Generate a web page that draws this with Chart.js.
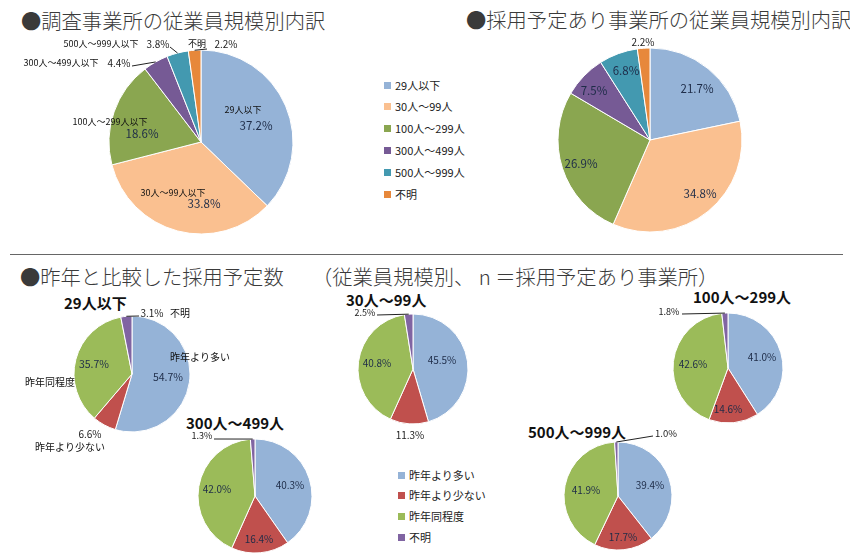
<!DOCTYPE html>
<html>
<head>
    <meta charset="utf-8">
    <title>従業員規模別 採用予定</title>
    <script src="https://cdn.jsdelivr.net/npm/chart.js"></script>
    <style>
        body { margin: 0; background: #fff; }
        #wrap { position: relative; width: 850px; height: 554px; overflow: hidden;
                font-family: "Noto Sans CJK JP", "Noto Sans", sans-serif; color: #222; }
        #wrap canvas { position: absolute; left: 0; top: 0; }
        .t { position: absolute; white-space: nowrap; }
        .big { font-size: 20.3px; line-height: 21px; color: #3a3a3a; font-weight: 300; }
        .sub { font-size: 15px; line-height: 15px; font-weight: bold; color: #111; }
        .leg { position: absolute; font-size: 11px; line-height: 11px; white-space: nowrap; }
        .leg span { display: inline-block; width: 7px; height: 7px; margin-right: 4px; vertical-align: 1px; }
        #sep { position: absolute; left: 10px; top: 254px; width: 833px; height: 0; border-top: 1.5px solid #666; }
    </style>
</head>
<body>
<div id="wrap">
    <div class="t big" style="left:21px; top:10px;">●調査事業所の従業員規模別内訳</div>
    <div class="t big" style="left:466px; top:9px;">●採用予定あり事業所の従業員規模別内訳</div>
    <div id="sep"></div>
    <div class="t big" style="left:20px; top:266px;">●昨年と比較した採用予定数</div>
    <div class="t big" style="left:312px; top:266px;">（従業員規模別、 n ＝採用予定あり事業所）</div>

    <div class="t sub" style="left:64px; top:295px;">29人以下</div>
    <div class="t sub" style="left:346px; top:292px;">30人～99人</div>
    <div class="t sub" style="left:693px; top:289px;">100人～299人</div>
    <div class="t sub" style="left:186px; top:415px;">300人～499人</div>
    <div class="t sub" style="left:528px; top:424px;">500人～999人</div>

    <div id="legendTop"></div>
    <div id="legendBottom"></div>
</div>

<script>
    // 規模別（上段）
    const sizeLabels = ['29人以下', '30人～99人', '100人～299人', '300人～499人', '500人～999人', '不明'];
    const surveyShares = [37.2, 33.8, 18.6, 4.4, 3.8, 2.2];   // 調査事業所
    const hiringShares = [21.7, 34.8, 26.9, 7.5, 6.8, 2.2];   // 採用予定あり事業所

    // 昨年比較（下段）
    const trendLabels = ['昨年より多い', '昨年より少ない', '昨年同程度', '不明'];
    const trend29 = [54.7, 6.6, 35.7, 3.1];
    const trend30 = [45.5, 11.3, 40.8, 2.5];
    const trend100 = [41.0, 14.6, 42.6, 1.8];
    const trend300 = [40.3, 16.4, 42.0, 1.3];
    const trend500 = [39.4, 17.7, 41.9, 1.0];

    const sizeColors = ['#95B3D7', '#FAC090', '#8AA650', '#765A95', '#4399B0', '#E7883B'];
    const trendColors = ['#95B3D7', '#C0504D', '#9BBB59', '#8064A2'];

    const W = 850, H = 554;
    const wrap = document.getElementById('wrap');

    // 扇形ごとの文字（位置は円の中心からのずれ）
    const sliceText = {
        id: 'sliceText',
        afterDatasetsDraw(chart, args, opts) {
            const ctx = chart.ctx;
            const vals = chart.data.datasets[0].data;
            const meta = chart.getDatasetMeta(0);
            meta.data.forEach((arc, i) => {
                const it = opts.items[i];
                if (!it) return;
                const p = arc.getProps(['x', 'y', 'outerRadius', 'startAngle', 'endAngle'], true);
                const mid = (p.startAngle + p.endAngle) / 2;
                ctx.save();
                if (it.leader) {
                    ctx.strokeStyle = '#222';
                    ctx.lineWidth = 1;
                    ctx.beginPath();
                    ctx.moveTo(p.x + it.leader[0], p.y + it.leader[1]);
                    ctx.lineTo(p.x + Math.cos(mid) * p.outerRadius, p.y + Math.sin(mid) * p.outerRadius);
                    ctx.stroke();
                }
                ctx.textAlign = 'center';
                ctx.textBaseline = 'middle';
                const fam = '"Noto Sans CJK JP", "Noto Sans", sans-serif';
                if (it.name) {
                    ctx.font = (it.nameSize || 9) + 'px ' + fam;
                    ctx.fillStyle = it.nameColor || '#111';
                    ctx.fillText(it.name, p.x + it.namePos[0], p.y + it.namePos[1]);
                }
                ctx.font = (it.valSize || opts.valSize || 11) + 'px ' + fam;
                ctx.fillStyle = it.valColor || opts.valColor || '#1E2C48';
                let vp = it.valPos;
                if (!vp) {
                    const rr = p.outerRadius * (it.r || 0.6);
                    vp = [Math.cos(mid) * rr, Math.sin(mid) * rr];
                }
                ctx.fillText(vals[i].toFixed(1) + '%', p.x + vp[0], p.y + vp[1]);
                ctx.restore();
            });
        }
    };

    const pies = [
        { labels: sizeLabels, data: surveyShares, colors: sizeColors, cx: 201, cy: 142, r: 92, valSize: 11.5,
          items: [
              { name: '29人以下', namePos: [42, -32], valPos: [55, -16] },
              { name: '30人～99人以下', namePos: [-28, 51], valPos: [3, 62] },
              { name: '100人～299人以下', namePos: [-91, -20], valPos: [-59, -8] },
              { name: '300人～499人以下', namePos: [-140, -79], valPos: [-82, -79], leader: [-69, -76], valSize: 10, valColor: '#222' },
              { name: '500人～999人以下', namePos: [-100, -98], valPos: [-43, -98], leader: [-31, -95], valSize: 10, valColor: '#222' },
              { name: '不明', namePos: [-4, -98], valPos: [25, -98], leader: [6, -93], valSize: 10, valColor: '#222' }
          ] },
        { labels: sizeLabels, data: hiringShares, colors: sizeColors, cx: 650, cy: 140, r: 92, valSize: 11.5,
          items: [
              { valPos: [47, -51] },
              { valPos: [50, 54] },
              { valPos: [-69, 24] },
              { valPos: [-56, -49] },
              { valPos: [-24, -69] },
              { valPos: [-7, -98], valSize: 10, valColor: '#222' }
          ] },
        { labels: trendLabels, data: trend29, colors: trendColors, cx: 132, cy: 374, r: 58, valSize: 10.5,
          items: [
              { name: '昨年より多い', namePos: [68, -17], nameSize: 10, valPos: [36, 3] },
              { name: '昨年より少ない', namePos: [-62, 73], nameSize: 10, valPos: [-42, 60], valSize: 10, valColor: '#222' },
              { name: '昨年同程度', namePos: [-82, 8], nameSize: 10, valPos: [-38, -10] },
              { name: '不明', namePos: [48, -61], nameSize: 10, valPos: [20, -61], leader: [7, -58], valSize: 10, valColor: '#222' }
          ] },
        { labels: trendLabels, data: trend30, colors: trendColors, cx: 413, cy: 369, r: 55, valSize: 10,
          items: [
              { valPos: [29, -9] },
              { valPos: [-3, 66], valColor: '#222' },
              { valPos: [-36, -6] },
              { valPos: [-48, -56], leader: [-36, -54], valSize: 9, valColor: '#222' }
          ] },
        { labels: trendLabels, data: trend100, colors: trendColors, cx: 728, cy: 368, r: 55, valSize: 10,
          items: [
              { valPos: [34, -11] },
              { valPos: [0, 41] },
              { valPos: [-35, -4] },
              { valPos: [-59, -56], leader: [-46, -54], valSize: 9, valColor: '#222' }
          ] },
        { labels: trendLabels, data: trend300, colors: trendColors, cx: 255, cy: 496, r: 57, valSize: 10,
          items: [
              { valPos: [35, -11] },
              { valPos: [4, 43] },
              { valPos: [-38, -7] },
              { valPos: [-53, -60], leader: [-41, -57], valSize: 9, valColor: '#222' }
          ] },
        { labels: trendLabels, data: trend500, colors: trendColors, cx: 618, cy: 496, r: 54, valSize: 10,
          items: [
              { valPos: [32, -11] },
              { valPos: [5, 41] },
              { valPos: [-32, -6] },
              { valPos: [48, -63], leader: [35, -60], valSize: 9.5, valColor: '#222' }
          ] }
    ];

    pies.forEach(pie => {
        const canvas = document.createElement('canvas');
        canvas.width = W;
        canvas.height = H;
        canvas.style.width = W + 'px';
        canvas.style.height = H + 'px';
        wrap.appendChild(canvas);
        new Chart(canvas.getContext('2d'), {
            type: 'pie',
            data: {
                labels: pie.labels,
                datasets: [{
                    data: pie.data,
                    backgroundColor: pie.colors,
                    borderColor: '#fff',
                    borderWidth: 1
                }]
            },
            options: {
                responsive: false,
                animation: false,
                radius: pie.r,
                layout: {
                    padding: { left: pie.cx - pie.r, right: W - pie.cx - pie.r, top: pie.cy - pie.r, bottom: H - pie.cy - pie.r }
                },
                plugins: {
                    legend: { display: false },
                    tooltip: { enabled: false },
                    sliceText: { items: pie.items, valSize: pie.valSize }
                }
            },
            plugins: [sliceText]
        });
    });

    // 凡例
    function buildLegend(el, labels, colors, x, y0, step, size) {
        labels.forEach((lab, i) => {
            const d = document.createElement('div');
            d.className = 'leg';
            d.style.left = x + 'px';
            d.style.top = (y0 + i * step - size / 2) + 'px';
            d.style.fontSize = size + 'px';
            d.style.lineHeight = size + 'px';
            d.innerHTML = '<span style="background:' + colors[i] + '"></span>' + lab;
            el.appendChild(d);
        });
    }
    buildLegend(document.getElementById('legendTop'), sizeLabels, sizeColors, 384, 85, 21.8, 11);
    buildLegend(document.getElementById('legendBottom'), trendLabels, trendColors, 398, 475, 20.7, 11);
</script>
</body>
</html>
